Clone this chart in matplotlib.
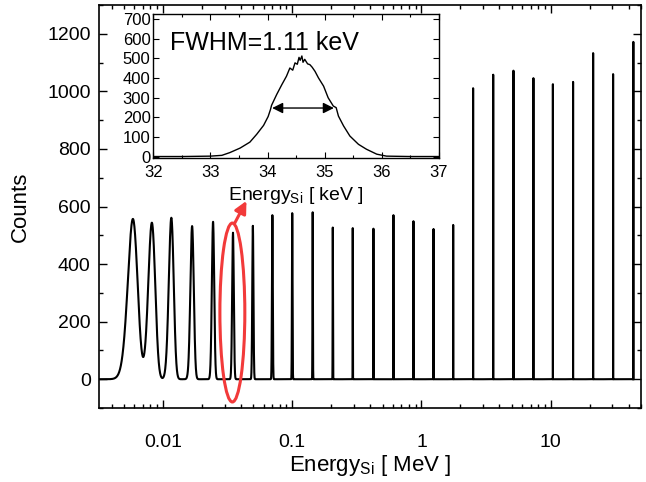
"""Si detector energy spectrum: alpha/ion peaks on a log energy axis, with
an inset zoom of the 34.6 keV peak (FWHM 1.11 keV)."""
import numpy as np
import matplotlib
matplotlib.use("Agg")
import matplotlib.pyplot as plt
from matplotlib.patches import Ellipse
from matplotlib.ticker import LogLocator, MultipleLocator, NullFormatter, FixedLocator

plt.rcParams["font.family"] = ["Liberation Sans", "DejaVu Sans"]
plt.rcParams["mathtext.fontset"] = "custom"
plt.rcParams["mathtext.rm"] = "Liberation Sans"
plt.rcParams["mathtext.it"] = "Liberation Sans:italic"

# peak centres [MeV] and heights [counts]
peak_energy_mev = [0.00585, 0.0082, 0.0116, 0.0168, 0.0244, 0.0348, 0.0496,
                   0.0702, 0.100, 0.144, 0.206, 0.294, 0.425, 0.607, 0.867,
                   1.24, 1.76, 2.51, 3.59, 5.15, 7.35, 10.4, 14.9, 21.3,
                   30.4, 43.6]
peak_counts = [557, 544, 561, 532, 547, 509, 533, 570, 577, 580, 527, 525,
               523, 570, 549, 522, 536, 1011, 1058, 1072, 1046, 1025, 1033,
               1133, 1060, 1172]
FWHM_KEV = 1.2  # detector resolution used for the line shape

inset_kev = [32.0, 32.5, 33.0, 33.2, 33.34, 33.52, 33.69, 33.81, 33.93,
             34.01, 34.05, 34.07, 34.16, 34.25, 34.33, 34.39, 34.44, 34.48,
             34.52, 34.55, 34.57, 34.60, 34.62, 34.65, 34.70, 34.74, 34.78,
             34.83, 34.89, 34.98, 35.06, 35.15, 35.20, 35.24, 35.33, 35.44,
             35.59, 35.73, 35.91, 36.08, 36.5, 37.0]
inset_counts = [2, 2, 4, 8, 22, 45, 75, 115, 160, 205, 240, 262, 317, 367,
                409, 451, 440, 477, 470, 505, 490, 512, 480, 495, 472, 468,
                455, 434, 401, 359, 300, 258, 250, 207, 157, 106, 64, 39, 14,
                4, 2, 2]
fwhm_left, fwhm_right, fwhm_level = 34.08, 35.16, 248


def build_spectrum(centres, heights, fwhm_kev):
    sig = fwhm_kev * 1e-3 / 2.3548
    grid = [np.geomspace(0.003, centres[-1], 4000)]
    for c in centres:
        grid.append(np.linspace(c - 5 * sig, c + 5 * sig, 81))
    e = np.unique(np.concatenate(grid))
    e = e[(e >= 0.003) & (e <= centres[-1] + 5 * sig)]
    y = np.zeros_like(e)
    for c, h in zip(centres, heights):
        y += h * np.exp(-0.5 * ((e - c) / sig) ** 2)
    return e, y


fig = plt.figure(figsize=(6.46, 4.82), dpi=100)
ax = fig.add_axes([0.1533, 0.1535, 0.839, 0.836])

e, y = build_spectrum(peak_energy_mev, peak_counts, FWHM_KEV)
ax.plot(e, y, color="black", lw=1.5)

ax.set_xscale("log")
ax.set_xlim(0.0032, 50)
ax.set_ylim(-100, 1300)
ax.xaxis.set_major_locator(FixedLocator([0.01, 0.1, 1, 10]))
ax.xaxis.set_minor_locator(LogLocator(base=10, subs=np.arange(2, 10)))
ax.xaxis.set_minor_formatter(NullFormatter())
ax.set_xticklabels(["0.01", "0.1", "1", "10"])
ax.yaxis.set_major_locator(MultipleLocator(200))
ax.yaxis.set_minor_locator(MultipleLocator(100))
ax.tick_params(which="both", direction="in", top=True, right=True,
               labelsize=14, width=1)
ax.tick_params(which="major", length=6)
ax.tick_params(which="minor", length=3)
ax.tick_params(axis="x", which="major", pad=19)
ax.tick_params(axis="y", which="major", pad=6)
for s in ax.spines.values():
    s.set_linewidth(1.2)
ax.set_xlabel(r"Energy$_{\mathrm{Si}}$ [ MeV ]", fontsize=16, labelpad=1)
ax.set_ylabel("Counts", fontsize=16, labelpad=12)

# red marker around the 34.6 keV peak and arrow to the inset
ax.add_patch(Ellipse((0.246, 0.237), 0.046, 0.444, transform=ax.transAxes,
                     fill=False, edgecolor="#f23a3a", lw=2.2, zorder=5))
ax.annotate("", xy=(0.272, 0.514), xytext=(0.250, 0.458),
            xycoords="axes fraction", textcoords="axes fraction",
            arrowprops=dict(arrowstyle="-|>", color="#f23a3a", lw=2.2,
                            mutation_scale=18, shrinkA=0, shrinkB=0))

# inset
axi = fig.add_axes([0.2373, 0.6728, 0.4423, 0.2982])
axi.plot(inset_kev, inset_counts, color="black", lw=1)
axi.set_xlim(32, 37)
axi.set_ylim(-4, 725)
axi.xaxis.set_major_locator(MultipleLocator(1))
axi.xaxis.set_minor_locator(MultipleLocator(0.5))
axi.yaxis.set_major_locator(MultipleLocator(100))
axi.tick_params(which="both", direction="in", top=True, right=True,
                labelsize=12, width=0.8)
axi.tick_params(which="major", length=4)
axi.tick_params(which="minor", length=2)
axi.tick_params(axis="y", pad=2)
axi.tick_params(axis="x", pad=5)
for s in axi.spines.values():
    s.set_linewidth(1)
axi.set_xlabel(r"Energy$_{\mathrm{Si}}$ [ keV ]", fontsize=14, labelpad=4)
axi.annotate("", xy=(fwhm_left, fwhm_level), xytext=(fwhm_right, fwhm_level),
             arrowprops=dict(arrowstyle="<|-|>", color="black", lw=1,
                             mutation_scale=16, shrinkA=0, shrinkB=0))
axi.text(0.06, 0.80, "FWHM=1.11 keV", transform=axi.transAxes, fontsize=18,
         va="center", ha="left")

fig.savefig("out.png", dpi=100)
